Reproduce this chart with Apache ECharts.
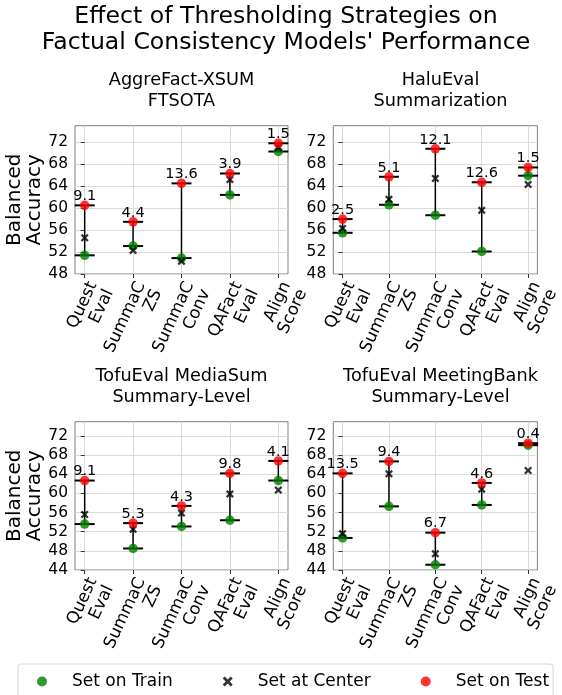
<!DOCTYPE html>
<html>
<head>
<meta charset="utf-8">
<script src="https://cdn.jsdelivr.net/npm/echarts@6/dist/echarts.min.js"></script>
<style>html,body{margin:0;padding:0;background:#fff}#c{width:562px;height:695px}</style>
</head>
<body>
<div id="c"></div>
<script>
// ---- data ----
const categories = ['Quest\nEval', 'SummaC\nZS', 'SummaC\nConv', 'QAFact\nEval', 'Align\nScore'];
const panelTitles = ['AggreFact-XSUM\nFTSOTA', 'HaluEval\nSummarization', 'TofuEval MediaSum\nSummary-Level', 'TofuEval MeetingBank\nSummary-Level'];

const aggreTrain  = [51.4, 53.1, 50.9, 62.4, 70.3];
const aggreCenter = [54.6, 52.3, 50.3, 65.2, 71.0];
const aggreTest   = [60.5, 57.5, 64.5, 66.3, 71.8];
const aggreGap    = ['9.1', '4.4', '13.6', '3.9', '1.5'];

const haluTrain  = [55.5, 60.6, 58.7, 52.1, 65.9];
const haluCenter = [56.3, 61.6, 65.4, 59.6, 64.3];
const haluTest   = [58.0, 65.7, 70.8, 64.7, 67.4];
const haluGap    = ['2.5', '5.1', '12.1', '12.6', '1.5'];

const mediaTrain  = [53.6, 48.5, 53.1, 54.4, 62.7];
const mediaCenter = [55.6, 52.5, 55.9, 59.9, 60.7];
const mediaTest   = [62.7, 53.8, 57.4, 64.2, 66.8];
const mediaGap    = ['9.1', '5.3', '4.3', '9.8', '4.1'];

const meetTrain  = [50.7, 57.3, 45.1, 57.6, 70.1];
const meetCenter = [51.6, 64.1, 47.4, 60.9, 64.8];
const meetTest   = [64.2, 66.7, 51.8, 62.2, 70.5];
const meetGap    = ['13.5', '9.4', '6.7', '4.6', '0.4'];

const yMins = [48, 48, 44, 44];
const yMax = 75;
const yTickStep = 4;
const xPositions = [0, 1, 2, 3, 4];

// ---- build ----
const panels = [
  {train: aggreTrain, center: aggreCenter, test: aggreTest, gap: aggreGap},
  {train: haluTrain, center: haluCenter, test: haluTest, gap: haluGap},
  {train: mediaTrain, center: mediaCenter, test: mediaTest, gap: mediaGap},
  {train: meetTrain, center: meetCenter, test: meetTest, gap: meetGap}
];
const FONT = 'DejaVu Sans';
const gridPos = [
  {left: 75, top: 125.7, width: 213, height: 148.3},
  {left: 333.3, top: 125.7, width: 214.4, height: 148.3},
  {left: 75, top: 421.7, width: 213, height: 148.3},
  {left: 333.3, top: 421.7, width: 214.4, height: 148.3}
];
const titleTops = [70, 70, 366, 366];
const XPATH = 'path://M0,2 L2,0 L5,3 L8,0 L10,2 L7,5 L10,8 L8,10 L5,7 L2,10 L0,8 L3,5 Z';

function yTicks(min) {
  const out = [];
  for (let v = min; v <= yMax; v += yTickStep) out.push(v);
  return out;
}

const grids = [], xAxes = [], yAxes = [], series = [], titles = [];
titles.push({
  text: "Effect of Thresholding Strategies on\nFactual Consistency Models' Performance",
  left: 286, top: 4, textAlign: 'center', padding: 0,
  textStyle: {fontFamily: FONT, fontSize: 23.6, lineHeight: 26, fontWeight: 'normal', color: '#000'}
});

panels.forEach((p, k) => {
  const g = gridPos[k];
  grids.push(Object.assign({show: true, borderColor: '#7f7f7f', borderWidth: 1, backgroundColor: 'transparent'}, g));
  titles.push({
    text: panelTitles[k], left: g.left + g.width / 2, top: titleTops[k], textAlign: 'center', padding: 0,
    textStyle: {fontFamily: FONT, fontSize: 17.7, lineHeight: 21, fontWeight: 'normal', color: '#000'}
  });
  const yt = yTicks(yMins[k]);
  xAxes.push({
    type: 'value', gridIndex: k, min: -0.2, max: 4.2, splitNumber: 5,
    axisLine: {show: false},
    axisTick: {show: true, length: 4, lineStyle: {color: '#333'}, customValues: xPositions},
    splitLine: {show: true, lineStyle: {color: '#dadada', width: 1}},
    axisLabel: {
      rotate: 65, align: 'right', verticalAlign: 'top', margin: 5,
      fontFamily: FONT, fontSize: 16.8, lineHeight: 18, color: '#000',
      customValues: xPositions,
      formatter: v => (Math.abs(v - Math.round(v)) < 1e-9 && v >= 0 && v <= 4) ? categories[Math.round(v)] : ''
    }
  });
  yAxes.push({
    type: 'value', gridIndex: k, min: yMins[k], max: yMax, interval: yTickStep,
    name: (k % 2 === 0) ? 'Balanced\nAccuracy' : '',
    nameLocation: 'middle', nameGap: 28,
    nameTextStyle: {fontFamily: FONT, fontSize: 20, lineHeight: 20, color: '#000'},
    axisLine: {show: false},
    axisTick: {show: true, length: 4, lineStyle: {color: '#333'}, customValues: yt},
    splitLine: {show: true, lineStyle: {color: '#dadada', width: 1}},
    axisLabel: {
      fontFamily: FONT, fontSize: 15.5, color: '#000', margin: 7,
      customValues: yt,
      formatter: v => ((v - yMins[k]) % yTickStep === 0 ? String(v) : '')
    }
  });
  const barData = p.train.map((t, i) => [i, t, p.test[i]]);
  series.push({
    type: 'custom', xAxisIndex: k, yAxisIndex: k, z: 1, silent: true,
    encode: {x: 0, y: [1, 2]},
    data: barData,
    renderItem: (params, api) => {
      const x = api.value(0);
      const lo = api.coord([x, api.value(1)]);
      const hi = api.coord([x, api.value(2)]);
      const hw = 10;
      return {type: 'group', children: [
        {type: 'line', shape: {x1: lo[0], y1: lo[1], x2: hi[0], y2: hi[1]}, style: {stroke: '#000', lineWidth: 1.5}},
        {type: 'line', shape: {x1: lo[0] - hw, y1: lo[1], x2: lo[0] + hw, y2: lo[1]}, style: {stroke: '#000', lineWidth: 2}},
        {type: 'line', shape: {x1: hi[0] - hw, y1: hi[1], x2: hi[0] + hw, y2: hi[1]}, style: {stroke: '#000', lineWidth: 2}}
      ]};
    }
  });
  series.push({
    name: 'Set on Train', type: 'scatter', xAxisIndex: k, yAxisIndex: k, z: 2,
    symbol: 'circle', symbolSize: 9.5, itemStyle: {color: '#008000'},
    data: p.train.map((v, i) => [i, v])
  });
  series.push({
    name: 'Set at Center', type: 'scatter', xAxisIndex: k, yAxisIndex: k, z: 3,
    symbol: XPATH, symbolSize: 8, itemStyle: {color: '#000'},
    data: p.center.map((v, i) => [i, v])
  });
  series.push({
    name: 'Set on Test', type: 'scatter', xAxisIndex: k, yAxisIndex: k, z: 4,
    symbol: 'circle', symbolSize: 9.5, itemStyle: {color: '#ff0000'},
    data: p.test.map((v, i) => [i, v])
  });
  series.push({
    type: 'custom', xAxisIndex: k, yAxisIndex: k, z: 5, silent: true,
    encode: {x: 0, y: 1},
    data: p.test.map((v, i) => [i, v]),
    renderItem: (params, api) => {
      const pt = api.coord([api.value(0), api.value(1)]);
      return {type: 'text', x: pt[0], y: pt[1] - 9,
        style: {text: p.gap[params.dataIndex], fontFamily: FONT, fontSize: 14.5, fill: '#000', align: 'center', verticalAlign: 'middle'}};
    }
  });
});

const chart = echarts.init(document.getElementById('c'), null, {renderer: 'canvas'});
chart.setOption({
  animation: false,
  backgroundColor: '#fff',
  title: titles,
  grid: grids,
  xAxis: xAxes,
  yAxis: yAxes,
  legend: {
    data: ['Set on Train', 'Set at Center', 'Set on Test'],
    left: 18, top: 664, orient: 'horizontal',
    padding: [9, 4, 9, 19],
    itemWidth: 50, itemHeight: 10, itemGap: 50,
    symbolKeepAspect: true,
    borderColor: '#d5d5d5', borderWidth: 1, borderRadius: 3,
    backgroundColor: '#fff',
    textStyle: {fontFamily: FONT, fontSize: 17, color: '#000'}
  },
  series: series
});
</script>
</body>
</html>
